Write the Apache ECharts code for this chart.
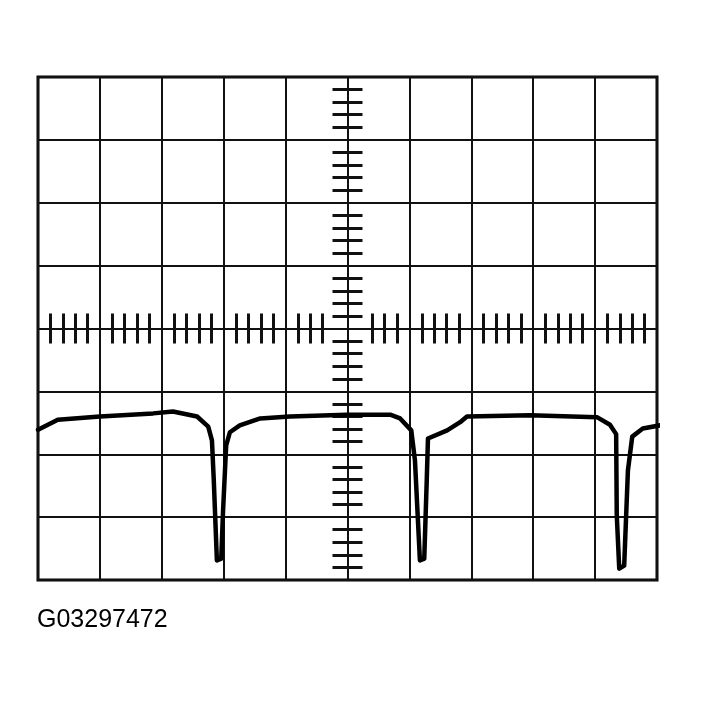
<!DOCTYPE html>
<html>
<head>
<meta charset="utf-8">
<script src="https://cdn.jsdelivr.net/npm/echarts@6/dist/echarts.min.js"></script>
<style>
html,body{margin:0;padding:0;background:#fff;}
#c{width:702px;height:704px;}
</style>
</head>
<body>
<div id="c"></div>
<script>
// Screen divisions: horizontal -5..5, vertical -4..4
var xDivMin = -5, xDivMax = 5, yDivMin = -4, yDivMax = 4;
var figureLabel = 'G03297472';
// Horizontal graticule ticks (the two next to the centre are absent on the reference)
var xTickValues = [
  -4.8, -4.6, -4.4, -4.2, -3.8, -3.6, -3.4, -3.2, -2.8, -2.6, -2.4, -2.2, -1.8, -1.6, -1.4, -1.2, -0.8, -0.6, -0.4,
  0.4, 0.6, 0.8, 1.2, 1.4, 1.6, 1.8, 2.2, 2.4, 2.6, 2.8, 3.2, 3.4, 3.6, 3.8, 4.2, 4.4, 4.6, 4.8
];

// Trace (x, y in divisions)
var traceX = [-5.00, -4.68, -4.00, -3.14, -2.82, -2.43, -2.25, -2.19, -2.16, -2.11, -2.04, -2.01, -1.96, -1.90, -1.74, -1.41, -0.93, -0.01,
  0.69, 0.85, 1.03, 1.09, 1.17, 1.24, 1.28, 1.30, 1.61, 1.82, 1.93, 2.95, 4.03, 4.24, 4.34, 4.35, 4.39, 4.47, 4.53, 4.60, 4.77, 5.05];
var traceY = [-1.61, -1.45, -1.40, -1.35, -1.32, -1.40, -1.56, -1.78, -2.42, -3.69, -3.66, -2.89, -1.86, -1.65, -1.54, -1.43, -1.40, -1.37,
  -1.37, -1.43, -1.62, -2.10, -3.69, -3.66, -2.42, -1.75, -1.62, -1.49, -1.40, -1.38, -1.41, -1.53, -1.68, -2.97, -3.82, -3.77, -2.26, -1.72, -1.59, -1.54];

var trace = traceX.map(function (x, i) { return [x, traceY[i]]; });

var chart = echarts.init(document.getElementById('c'), null, {renderer: 'canvas'});

var gridLine = {show: true, lineStyle: {color: '#111', width: 2}};
var tickStyle = {color: '#111', width: 3};

// x axis carrying only the vertical grid lines
var xGridAxis = {
  type: 'value', position: 'bottom', min: xDivMin, max: xDivMax, interval: 1,
  axisLine: {show: false, onZero: false}, axisTick: {show: false}, axisLabel: {show: false},
  splitLine: gridLine
};
// centre x axes carrying the graticule ticks (one upward, one downward)
function centerXAxis(pos) {
  return {
    type: 'value', position: pos, min: xDivMin, max: xDivMax, interval: 1,
    axisLine: {show: true, onZero: true, onZeroAxisIndex: 0, lineStyle: {color: '#111', width: 2}},
    axisTick: {show: true, customValues: xTickValues, length: 15, lineStyle: tickStyle},
    axisLabel: {show: false},
    splitLine: {show: false}
  };
}
function centerYAxis(pos, withSplit) {
  return {
    type: 'value', position: pos, min: yDivMin, max: yDivMax, interval: 1,
    axisLine: {show: true, onZero: true, onZeroAxisIndex: 0, lineStyle: {color: '#111', width: 2}},
    axisTick: {show: false},
    minorTick: {show: true, splitNumber: 5, length: 15, lineStyle: tickStyle},
    axisLabel: {show: false},
    splitLine: withSplit ? gridLine : {show: false},
    minorSplitLine: {show: false}
  };
}

chart.setOption({
  animation: false,
  backgroundColor: '#fff',
  title: {
    text: figureLabel, left: 37, top: 608, padding: 0,
    textStyle: {fontFamily: 'Liberation Sans, Arial, sans-serif', fontSize: 25, fontWeight: 'normal', color: '#000'}
  },
  grid: {left: 38, top: 77, width: 619, height: 503, show: true, borderColor: '#000', borderWidth: 3, backgroundColor: 'transparent'},
  xAxis: [xGridAxis, centerXAxis('bottom'), centerXAxis('top')],
  yAxis: [centerYAxis('left', true), centerYAxis('right', false)],
  series: [{
    type: 'line', data: trace, xAxisIndex: 0, yAxisIndex: 0,
    showSymbol: false, symbol: 'none', clip: false,
    lineStyle: {color: '#000', width: 4.5, join: 'round', cap: 'round'}
  }]
});
</script>
</body>
</html>
